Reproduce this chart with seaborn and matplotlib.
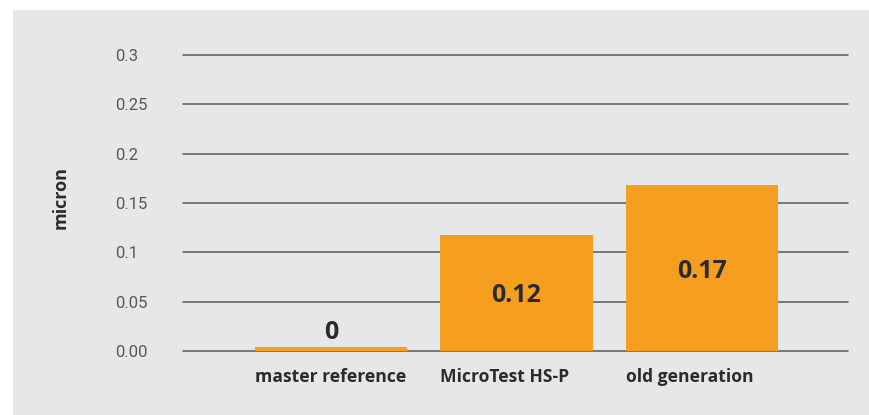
import numpy as np
import pandas as pd
import matplotlib
matplotlib.use("Agg")
import matplotlib.pyplot as plt
import matplotlib.transforms as mtransforms
from matplotlib.patches import Rectangle
import seaborn as sns

# data
categories = ["master reference", "MicroTest HS-P", "old generation"]
values = [0.004, 0.118, 0.168]
value_labels = ["0", "0.12", "0.17"]
yticks = [0.0, 0.05, 0.1, 0.15, 0.2, 0.25, 0.3]
ytick_labels = ["0.00", "0.05", "0.1", "0.15", "0.2", "0.25", "0.3"]

sns.set_style("white")
plt.rcParams["font.family"] = ["Open Sans", "DejaVu Sans"]

BG = "#e6e7e9"
ORANGE = "#f59e1f"
TEXT = "#2b2b2d"

fig = plt.figure(figsize=(8.69, 4.15), dpi=100)
fig.patch.set_facecolor("white")
# grey panel behind the chart
fig.patches.append(Rectangle((13 / 869, 0), 1 - 13 / 869, (415 - 10) / 415,
                             transform=fig.transFigure, facecolor=BG,
                             edgecolor="none", zorder=-10))

ax = fig.add_axes([183 / 869, (415 - 351) / 415, (848 - 183) / 869, (351 - 55) / 415])
ax.set_facecolor("none")

df = pd.DataFrame({"cat": categories, "val": values})
bar_w = 0.82
sns.barplot(data=df, x="cat", y="val", color=ORANGE, saturation=1,
            width=bar_w, ax=ax, zorder=3, linewidth=0, edgecolor="none")

ax.set_xlim(-0.798, 2.787)
ax.set_ylim(0, 0.3)
for s in ax.spines.values():
    s.set_visible(False)

ax.set_yticks(yticks, ytick_labels)
ax.yaxis.grid(True, color="#5a5a5c", linewidth=1.1)
for gl in ax.get_ygridlines():
    gl.set_clip_on(False)
ax.tick_params(axis="y", length=0, pad=49, labelsize=12, labelcolor="#58585a")
for lab in ax.get_yticklabels():
    lab.set_horizontalalignment("left")
    lab.set_fontfamily(["Roboto", "DejaVu Sans"])
    lab.set_fontweight("normal")

# category labels, left aligned with the bar edge
ax.set_xticks(range(len(categories)), [""] * len(categories))
ax.tick_params(axis="x", length=0)
ax.set_xlabel("")
trans = mtransforms.blended_transform_factory(ax.transData, ax.transAxes)
for i, c in enumerate(categories):
    ax.text(i - bar_w / 2, -0.087, c, transform=trans, ha="left", va="center",
            fontsize=12.6, fontweight="bold", color=TEXT)

# value labels
for i, (v, t) in enumerate(zip(values, value_labels)):
    y = v / 2 if v > 0.05 else v + 0.018
    ax.text(i, y, t, ha="center", va="center_baseline", fontsize=18,
            fontweight="bold", color=TEXT, zorder=5)

ax.set_ylabel("micron", fontsize=13, fontweight="bold", color=TEXT, labelpad=0)
ax.yaxis.set_label_coords((70 - 183) / (848 - 183), 0.52)

fig.savefig("out.png", dpi=100, facecolor=fig.get_facecolor())
